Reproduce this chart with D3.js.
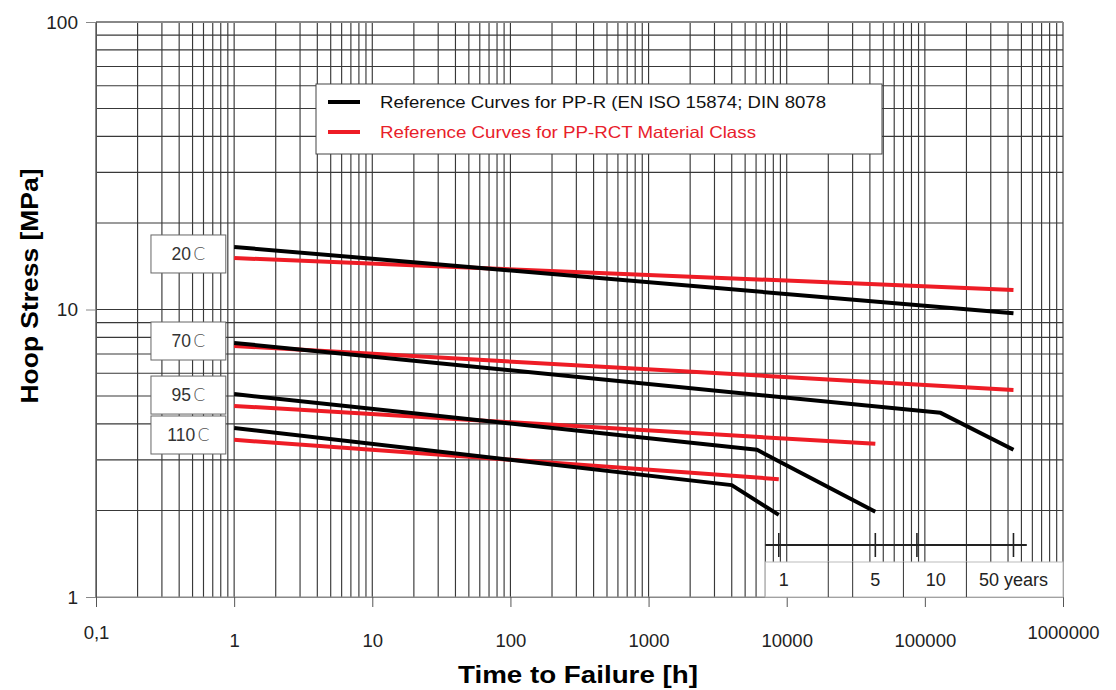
<!DOCTYPE html>
<html>
<head>
<meta charset="utf-8">
<script src="https://cdn.jsdelivr.net/npm/d3@7"></script>
<style>
  body { margin: 0; background: #fff; }
  svg { font-family: Arial, "Liberation Sans", sans-serif; }
</style>
</head>
<body>
<svg id="chart" width="1116" height="690"></svg>
<script>
// --- données (temps en h, contrainte en MPa) ---
var ppr20  = [[1, 16.5], [438000, 9.7]];
var ppr70  = [[1, 7.65], [130000, 4.37], [438000, 3.25]];
var ppr95  = [[1, 5.08], [6100, 3.25], [43800, 1.98]];
var ppr110 = [[1, 3.87], [4000, 2.45], [8760, 1.93]];

var rct20  = [[1, 15.1], [438000, 11.7]];
var rct70  = [[1, 7.47], [438000, 5.25]];
var rct95  = [[1, 4.62], [43800, 3.41]];
var rct110 = [[1, 3.52], [8760, 2.57]];

var tempLabels = ["20", "70", "95", "110"];
var tempLabelStress = [15.6, 7.77, 5.04, 3.66];

var xTickValues = [0.1, 1, 10, 100, 1000, 10000, 100000, 1000000];
var xTickLabels = ["0,1", "1", "10", "100", "1000", "10000", "100000", "1000000"];
var yTickValues = [1, 10, 100];
var yTickLabels = ["1", "10", "100"];

var years = [1, 5, 10, 50];
var yearLabels = ["1", "5", "10", "50 years"];
var yearLabelAt = [9500, 43800, 120000, 438000]; // heures
var yearDividers = [20000, 30000, 70000, 200000]; // heures

var legendLabels = ["Reference Curves for PP-R (EN ISO 15874; DIN 8078",
                    "Reference Curves for PP-RCT Material Class"];
var legendWidths = [446, 376];
var colors = { ppr: "#000000", rct: "#ee1c25" };

// --- échelles ---
var svg = d3.select("#chart");
var x = d3.scaleLog().domain([0.1, 1000000]).range([96, 1063]);
var y = d3.scaleLog().domain([1, 100]).range([597, 22]);

// grille : 1..9 par décade
function logGrid(lo, hi) {
  var out = [];
  for (var d = lo; d < hi; d *= 10) {
    for (var k = 1; k < 10; k++) out.push(d * k);
  }
  out.push(hi);
  return out;
}
var xGrid = logGrid(0.1, 1000000);
var yGrid = logGrid(1, 100);

var grid = svg.append("g").attr("stroke", "#383838").attr("stroke-width", 1.15);
grid.selectAll("line.v").data(xGrid).enter().append("line")
  .attr("class", "v")
  .attr("x1", d => x(d)).attr("x2", d => x(d))
  .attr("y1", y(100)).attr("y2", y(1));
grid.selectAll("line.h").data(yGrid).enter().append("line")
  .attr("class", "h")
  .attr("x1", x(0.1)).attr("x2", x(1000000))
  .attr("y1", d => y(d)).attr("y2", d => y(d))
  .attr("stroke", d => (d === 1 || d === 100) ? "#888" : "#383838")
  .attr("stroke-width", d => d === 100 ? 2 : 1.15);

// axes
var xAxis = d3.axisBottom(x).tickValues(xTickValues)
  .tickFormat((d, i) => xTickLabels[i]).tickSize(10).tickPadding(0);
var gx = svg.append("g").attr("transform", "translate(0," + y(1) + ")").call(xAxis);
gx.select(".domain").attr("stroke", "#888");
gx.selectAll(".tick line").attr("stroke", "#555");
gx.selectAll(".tick text").attr("font-size", 18.5).attr("fill", "#222")
  .attr("dy", null)
  .attr("y", (d, i) => (i === 0 || i === xTickValues.length - 1) ? 42 : 50);

var yAxis = d3.axisLeft(y).tickValues(yTickValues)
  .tickFormat((d, i) => yTickLabels[i]).tickSize(10).tickPadding(8);
var gy = svg.append("g").attr("transform", "translate(" + x(0.1) + ",0)").call(yAxis);
gy.select(".domain").attr("stroke", "#555");
gy.selectAll(".tick line").attr("stroke", "#888");
gy.selectAll(".tick text").attr("font-size", 19).attr("fill", "#222");

// titres
svg.append("text")
  .attr("transform", "translate(38," + 286 + ") rotate(-90)")
  .attr("text-anchor", "middle")
  .attr("font-size", 23).attr("font-weight", "bold")
  .attr("textLength", 235).attr("lengthAdjust", "spacingAndGlyphs")
  .text("Hoop Stress [MPa]");
svg.append("text")
  .attr("x", 578).attr("y", 683)
  .attr("text-anchor", "middle")
  .attr("font-size", 23).attr("font-weight", "bold")
  .attr("textLength", 240).attr("lengthAdjust", "spacingAndGlyphs")
  .text("Time to Failure [h]");

// boite des années
var boxTop = y(1) - 35;
svg.append("rect")
  .attr("x", x(7000)).attr("y", boxTop)
  .attr("width", x(1000000) - x(7000)).attr("height", y(1) - boxTop)
  .attr("fill", "#fff").attr("stroke", "#bbb").attr("stroke-width", 1);
svg.selectAll("line.ydiv").data(yearDividers).enter().append("line")
  .attr("class", "ydiv")
  .attr("x1", d => x(d)).attr("x2", d => x(d))
  .attr("y1", boxTop).attr("y2", y(1))
  .attr("stroke", "#444").attr("stroke-width", 1.1);
svg.selectAll("text.yr").data(yearLabels).enter().append("text")
  .attr("class", "yr")
  .attr("x", (d, i) => x(yearLabelAt[i])).attr("y", y(1) - 11)
  .attr("text-anchor", "middle").attr("font-size", 18).attr("fill", "#222")
  .text(d => d);
var timelineY = boxTop - 17;
svg.append("line")
  .attr("x1", x(7000)).attr("x2", x(547000))
  .attr("y1", timelineY).attr("y2", timelineY)
  .attr("stroke", "#222").attr("stroke-width", 1.8);
svg.selectAll("line.yt").data(years).enter().append("line")
  .attr("class", "yt")
  .attr("x1", d => x(d * 8760)).attr("x2", d => x(d * 8760))
  .attr("y1", timelineY - 12).attr("y2", timelineY + 12)
  .attr("stroke", "#222").attr("stroke-width", 1.6);

// courbes
var line = d3.line().x(d => x(d[0])).y(d => y(d[1]));
var series = [
  { data: rct20, c: colors.rct }, { data: rct70, c: colors.rct },
  { data: rct95, c: colors.rct }, { data: rct110, c: colors.rct },
  { data: ppr20, c: colors.ppr }, { data: ppr70, c: colors.ppr },
  { data: ppr95, c: colors.ppr }, { data: ppr110, c: colors.ppr }
];
svg.selectAll("path.curve").data(series).enter().append("path")
  .attr("class", "curve")
  .attr("d", d => line(d.data))
  .attr("fill", "none")
  .attr("stroke", d => d.c)
  .attr("stroke-width", 4)
  .attr("stroke-linejoin", "round");

// étiquettes de température
var labX0 = x(0.25), labW = x(0.87) - x(0.25);
var lab = svg.selectAll("g.temp").data(tempLabels).enter().append("g")
  .attr("class", "temp")
  .attr("transform", (d, i) => "translate(" + labX0 + "," + y(tempLabelStress[i]) + ")");
lab.append("rect")
  .attr("x", 0).attr("y", -19).attr("width", labW).attr("height", 38)
  .attr("fill", "#fff").attr("stroke", "#666").attr("stroke-width", 1);
var lt = lab.append("text")
  .attr("x", labW / 2).attr("y", 6)
  .attr("text-anchor", "middle").attr("font-size", 17.5).attr("fill", "#333");
lt.append("tspan").text(d => d);
lt.append("tspan").attr("font-family", "'DejaVu Sans'").attr("font-weight", 300)
  .attr("fill", "#555").attr("dx", 2).text("C");

// légende
var leg = svg.append("g").attr("transform", "translate(316,84)");
leg.append("rect").attr("width", 566).attr("height", 70)
  .attr("fill", "#fff").attr("stroke", "#444").attr("stroke-width", 1);
var legColors = [colors.ppr, colors.rct];
leg.selectAll("line").data(legendLabels).enter().append("line")
  .attr("x1", 12).attr("x2", 44)
  .attr("y1", (d, i) => 18 + i * 30).attr("y2", (d, i) => 18 + i * 30)
  .attr("stroke", (d, i) => legColors[i]).attr("stroke-width", 4);
leg.selectAll("text").data(legendLabels).enter().append("text")
  .attr("x", 64).attr("y", (d, i) => 24 + i * 30)
  .attr("font-size", 16.5)
  .attr("textLength", (d, i) => legendWidths[i]).attr("lengthAdjust", "spacingAndGlyphs")
  .attr("fill", (d, i) => i === 0 ? "#111" : "#e8202a")
  .text(d => d);
</script>
</body>
</html>
